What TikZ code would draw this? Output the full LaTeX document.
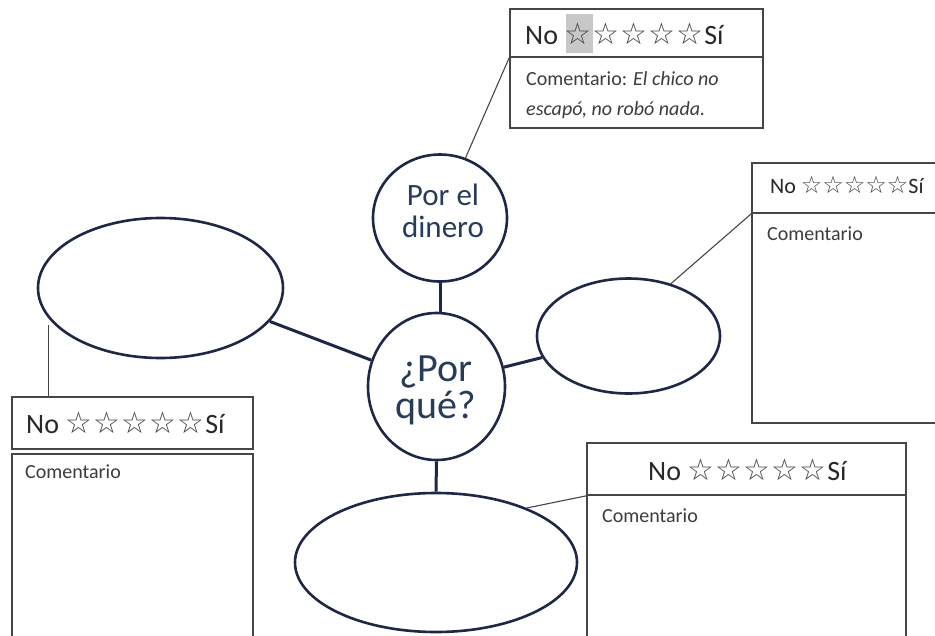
\documentclass[tikz,border=0pt]{standalone}
\usepackage{fontspec}
\setmainfont{Carlito}
\newfontfamily\starfont{DejaVu Sans}
\usetikzlibrary{shapes.geometric,calc}
\definecolor{navy}{RGB}{30,40,70}
\definecolor{boxgray}{RGB}{70,70,70}
\definecolor{leadgray}{RGB}{70,70,70}
\definecolor{hdrtext}{RGB}{40,40,40}
\definecolor{cmttext}{RGB}{60,60,60}
\definecolor{bluetext}{RGB}{40,60,90}
\definecolor{hlgray}{RGB}{200,200,200}
\definecolor{stargray}{RGB}{70,70,70}
\newcommand\ostar[2]{\makebox[#1pt][c]{\textcolor{stargray}{\starfont\fontsize{#2}{#2}\selectfont ☆}}}
\newcommand\starrow[2]{\ostar{#1}{#2}\ostar{#1}{#2}\ostar{#1}{#2}\ostar{#1}{#2}\ostar{#1}{#2}}
\begin{document}
\begin{tikzpicture}[x=1pt,y=-1pt,
  bubble/.style={ellipse, draw=navy, line width=2.6pt, inner sep=0pt, fill=white},
  panel/.style={rectangle, draw=boxgray, line width=1.7pt, inner sep=0pt, fill=white},
  link/.style={draw=navy, line width=3pt},
  lead/.style={draw=leadgray, line width=1.1pt},
  hdr/.style={anchor=base west, inner sep=0pt, text=hdrtext, font=\fontsize{28}{30}\selectfont},
  cmt/.style={anchor=base west, inner sep=0pt, text=cmttext, font=\fontsize{20}{24}\selectfont},
  circtxt/.style={align=center, inner sep=0pt, text=bluetext}]
\useasboundingbox (0,0) rectangle (935,635);
% bubbles
\node[bubble, minimum width=134pt, minimum height=127pt] (dinero) at (440,218) {};
\node[bubble, minimum width=137pt, minimum height=147pt] (hub) at (436.5,386.5) {};
\node[bubble, minimum width=245pt, minimum height=140pt] (lell) at (160.5,288) {};
\node[bubble, minimum width=183pt, minimum height=115pt] (rell) at (628.5,336) {};
\node[bubble, minimum width=282pt, minimum height=139pt] (bell) at (436,562.5) {};
\node[circtxt, font=\fontsize{31}{32}\selectfont] (dtxt) at (443,211) {Por el\\dinero};
\node[circtxt, font=\fontsize{40}{37}\selectfont] (htxt) at (436,390.5) {¿Por\\qué?};
% links
\draw[link] (dinero.south) -- (dinero.south |- hub.north);
\draw[link] (hub.158) -- (lell.343);
\draw[link] (hub.16) -- (rell.194);
\draw[link] (hub.south) -- (bell.north);
% panels
\node[panel, minimum width=253pt, minimum height=48pt] (thead) at (636.5,33) {};
\node[panel, minimum width=253pt, minimum height=71pt] (tbody) at (636.5,92.5) {};
\node[panel, minimum width=193pt, minimum height=50pt] (rhead) at (848.5,188) {};
\node[panel, minimum width=193pt, minimum height=210pt] (rbody) at (848.5,318) {};
\node[panel, minimum width=241pt, minimum height=52pt] (lhead) at (132.5,423) {};
\node[panel, minimum width=241pt, minimum height=196pt] (lbody) at (132.5,552) {};
\node[panel, minimum width=319pt, minimum height=52pt] (bhead) at (746.5,469) {};
\node[panel, minimum width=319pt, minimum height=155pt] (bbody) at (746.5,572.5) {};
\node[fill=hlgray, minimum width=27pt, minimum height=39pt, inner sep=0pt] (hl) at (579.5,33.5) {};
% header texts
\node[hdr] (tt) at (525,44) {No \starrow{28}{30}Sí};
\node[hdr] (lt) at (26,433) {No \starrow{28}{30}Sí};
\node[hdr] (bt) at (648,480) {No \starrow{28}{30}Sí};
\node[hdr, font=\fontsize{22}{24}\selectfont] (rt) at (770,193) {No \starrow{21.5}{24}Sí};
% comments
\node[cmt] (tc1) at (526,85) {Comentario: \textit{El chico no}};
\node[cmt] (tc2) at (526,115) {\textit{escapó, no robó nada.}};
\node[cmt] (rc) at (767,240) {Comentario};
\node[cmt] (lc) at (25,478) {Comentario};
\node[cmt] (bc) at (602,522) {Comentario};
% leads
\draw[lead] (dinero.67) -- (thead.south west);
\draw[lead] (rell.51) -- (rhead.south west);
\draw[lead] (bell.31) -- (bhead.south west);
\coordinate (lfoot) at ($(lhead.north west)+(37,0)$);
\draw[lead] (lfoot) -- (lfoot |- lell.199);
\end{tikzpicture}
\end{document}
